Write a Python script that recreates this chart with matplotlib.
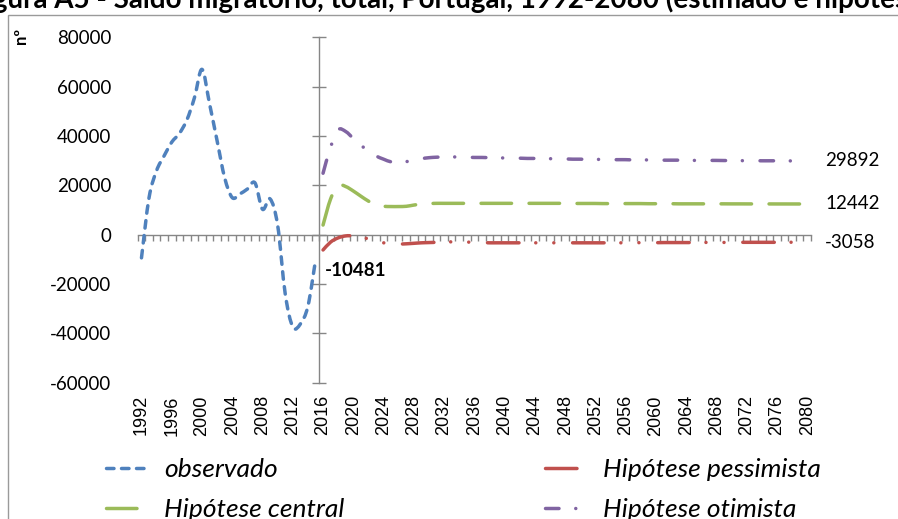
import matplotlib
matplotlib.use('Agg')
import matplotlib.pyplot as plt
from matplotlib.path import Path
from matplotlib.patches import PathPatch, Rectangle
from matplotlib.lines import Line2D
import numpy as np

plt.rcParams['font.family'] = ['Lato', 'DejaVu Sans']

# ---------------- data ----------------
all_years = list(range(1992, 2081))
tick_years = list(range(1992, 2081, 4))

obs_years = list(range(1992, 2016))
observado = [-9400, 15000, 26000, 32000, 37500, 41000, 46500, 55500, 67000, 53000,
             38000, 23000, 15000, 16500, 18500, 21000, 10300, 14500, 3800, -24000,
             -37400, -36200, -29000, -10481]

proj_years = list(range(2016, 2081))
pessimista = [-6200, -3000, -1300, -500, -500, -1000, -1700, -2600, -3300, -3700,
              -3800, -3700, -3500, -3300, -3200, -3100, -3000, -2900, -2900, -3000,
              -3100, -3200, -3300, -3300, -3300, -3300, -3300, -3300, -3300, -3300,
              -3300, -3300, -3300, -3300, -3300, -3300, -3300, -3300, -3300, -3300,
              -3300, -3250, -3250, -3250, -3250, -3200, -3200, -3200, -3200, -3200,
              -3150, -3150, -3150, -3150, -3150, -3100, -3100, -3100, -3100, -3100,
              -3100, -3080, -3070, -3060, -3058]
central = [3900, 14500, 20000, 19500, 17700, 15600, 13600, 12000, 11500, 11400,
           11400, 11500, 12000, 12400, 12600, 12700, 12700, 12700, 12700, 12700,
           12700, 12700, 12700, 12700, 12700, 12700, 12700, 12700, 12700, 12700,
           12700, 12700, 12700, 12650, 12650, 12650, 12650, 12600, 12600, 12600,
           12600, 12600, 12600, 12550, 12550, 12550, 12550, 12500, 12500, 12500,
           12500, 12500, 12500, 12500, 12480, 12480, 12470, 12470, 12460, 12460,
           12450, 12450, 12445, 12443, 12442]
otimista = [24900, 35500, 42500, 41800, 39000, 36300, 33800, 31900, 30600, 29500,
            29300, 29600, 30200, 30800, 31200, 31400, 31500, 31500, 31500, 31400,
            31300, 31300, 31200, 31100, 31100, 31000, 31000, 30900, 30900, 30800,
            30800, 30700, 30700, 30600, 30600, 30500, 30500, 30500, 30400, 30400,
            30400, 30300, 30300, 30300, 30300, 30200, 30200, 30200, 30200, 30100,
            30100, 30100, 30100, 30050, 30050, 30000, 30000, 30000, 29950, 29950,
            29950, 29920, 29900, 29895, 29892]

# ---------------- style ----------------
BLUE, RED, GREEN, PURPLE = '#4F81BD', '#C0504D', '#9BBB59', '#8064A2'
AXIS_GRAY = '#868686'
LW = 2.5
LWPX = LW / 72 * 100  # line width in px


def pat(px_list):
    return (0, [v / LWPX for v in px_list])


STY_OBS = pat([7.5, 7.5])
STY_CEN = pat([30.5, 17.5])
STY_OTI = pat([13.5, 16.75, 0.05, 17.65])
STY_PES = pat([31.5, 16.75, 0.05, 18.0, 0.05, 18.75])

W, H = 898, 519
fig = plt.figure(figsize=(W / 100, H / 100), dpi=100)

x0, x1 = 137.7, 811.0
yt, yb = 37.3, 382.7
ax = fig.add_axes([x0 / W, 1 - yb / H, (x1 - x0) / W, (yb - yt) / H])
ax.set_xlim(-0.5, len(all_years) - 0.5)
ax.set_ylim(-60000, 80000)
for s in ax.spines.values():
    s.set_visible(False)
ax.patch.set_alpha(0)

idx = {y: i for i, y in enumerate(all_years)}
ax.set_xticks([idx[y] for y in tick_years])
ax.set_xticklabels([str(y) for y in tick_years], rotation=90,
                   fontfamily=['Liberation Sans', 'DejaVu Sans'], fontsize=13)
ax.tick_params(axis='x', length=0, pad=9)
yticks = list(range(-60000, 80001, 20000))
ax.set_yticks(yticks)
ax.set_yticklabels([str(v) for v in yticks], fontsize=13.5)
ax.tick_params(axis='y', length=0, pad=19)

# x axis line at y = 0
ypos = (0 - (-60000)) / 140000
secx = ax.secondary_xaxis(ypos)
secx.set_xticks(np.arange(-0.5, len(all_years), 1.0))
secx.tick_params(direction='out', length=4.5, width=1.0, color=AXIS_GRAY,
                 labelbottom=False, labeltop=False)
for s in secx.spines.values():
    s.set_color(AXIS_GRAY)
    s.set_linewidth(1.0)

# y axis line between 2015 and 2016
xpos = (idx[2016] - 0.5 + 0.5) / len(all_years)
secy = ax.secondary_yaxis(xpos)
secy.set_yticks(yticks)
secy.tick_params(direction='inout', length=10, width=1.0, color=AXIS_GRAY,
                 labelleft=False, labelright=False)
for s in secy.spines.values():
    s.set_color(AXIS_GRAY)
    s.set_linewidth(1.0)


def smooth_patch(xs, ys, color, ls):
    pts = np.column_stack([xs, ys]).astype(float)
    n = len(pts)
    verts = [pts[0]]
    codes = [Path.MOVETO]
    for i in range(n - 1):
        p0 = pts[i - 1] if i > 0 else pts[i]
        p1 = pts[i]
        p2 = pts[i + 1]
        p3 = pts[i + 2] if i + 2 < n else pts[i + 1]
        c1 = p1 + (p2 - p0) / 6.0
        c2 = p2 - (p3 - p1) / 6.0
        verts += [c1, c2, p2]
        codes += [Path.CURVE4] * 3
    patch = PathPatch(Path(verts, codes), facecolor='none', edgecolor=color,
                      linewidth=LW, linestyle=ls, capstyle='round',
                      joinstyle='round', zorder=3)
    ax.add_patch(patch)


smooth_patch([idx[y] for y in obs_years], observado, BLUE, STY_OBS)
smooth_patch([idx[y] for y in proj_years], pessimista, RED, STY_PES)
smooth_patch([idx[y] for y in proj_years], central, GREEN, STY_CEN)
smooth_patch([idx[y] for y in proj_years], otimista, PURPLE, STY_OTI)

# data labels
ax.annotate(str(observado[-1]), (idx[obs_years[-1]], observado[-1]),
            xytext=(7, -7), textcoords='offset points', ha='left', va='center',
            fontsize=13.5, fontweight='bold')
for series in (otimista, central, pessimista):
    ax.annotate(str(series[-1]), (idx[proj_years[-1]], series[-1]),
                xytext=(13, 0), textcoords='offset points', ha='left',
                va='center', fontsize=13.5)

# legend
def h(color, ls):
    return Line2D([], [], color=color, lw=LW, linestyle=ls,
                  dash_capstyle='round', solid_capstyle='round')

handles = [h(BLUE, STY_OBS), h(GREEN, STY_CEN), h(RED, STY_PES), h(PURPLE, STY_OTI)]
labels = ['observado', 'Hipótese central', 'Hipótese pessimista', 'Hipótese otimista']
leg = fig.legend(handles, labels, ncol=2, loc='upper left',
                 bbox_to_anchor=(85 / W, 1 - 437 / H), frameon=False,
                 prop={'style': 'italic', 'size': 19}, handlelength=1.7,
                 handletextpad=0.5, columnspacing=7.6, labelspacing=0.65,
                 borderpad=0.3)

# y label and title and chart border
fig.text(21 / W, 1 - 36 / H, 'nº', rotation=90, ha='center', va='center',
         fontsize=12, fontweight='bold')
fig.text(0.508, 1 - 8 / H,
         'Figura A5 - Saldo migratório, total, Portugal, 1992-2080 (estimado e hipóteses)',
         ha='center', va='baseline', fontsize=20, fontweight='bold')
fig.patches.append(Rectangle((8 / W, -0.1), 1.2, 1 - 15 / H + 0.1,
                             transform=fig.transFigure, fill=False,
                             edgecolor='#9a9a9a', linewidth=1.0))

fig.savefig('out.png', dpi=100)
